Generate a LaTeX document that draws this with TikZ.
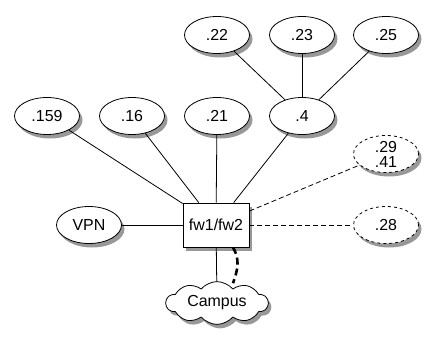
\documentclass[tikz,border=0pt]{standalone}
\usepackage{fontspec}
\setmainfont{Liberation Sans}
\usetikzlibrary{positioning, calc, shapes.geometric, shapes.symbols, shadows}

\begin{document}
\begin{tikzpicture}[
    every node/.style={font=\fontsize{16}{18}\selectfont},
    % page pixels: 435 x 345, origin bottom left
    x=1bp, y=1bp,
]

% ---------------------------------------------------------------- colours
\definecolor{inkcolor}{HTML}{000000}
\definecolor{paper}{HTML}{FFFFFF}
\definecolor{shadecolor}{HTML}{444444}

\tikzset{
    shade/.style={drop shadow={shadow xshift=3bp, shadow yshift=-4bp,
                  fill=shadecolor, opacity=0.55}},
    host/.style={ellipse, draw=inkcolor, fill=paper, line width=0.8pt,
                 minimum width=65bp, minimum height=37bp, inner sep=0pt,
                 align=center, shade},
    spare/.style={host, dashed},
    gateway/.style={rectangle, draw=inkcolor, fill=paper, line width=0.8pt,
                    minimum width=66bp, minimum height=44bp, shade},
    campus/.style={cloud, cloud puffs=10, cloud puff arc=100, aspect=2.6,
                   draw=inkcolor, fill=paper, line width=0.8pt,
                   minimum width=102bp, minimum height=40bp, inner sep=0pt,
                   shade},
    link/.style={inkcolor, line width=0.8pt},
    vlink/.style={link, dash pattern=on 5bp off 3bp},
    heavy/.style={inkcolor, line width=2.6pt, dash pattern=on 7bp off 4bp},
}

\useasboundingbox (0,0) rectangle (435,345);

% ---------------------------------------------------------------- nodes
\node[gateway] (fw) at (216,120) {fw1/fw2};
\node[host] (vpn) at (89,120) {VPN};
\node[campus] (cmp) at (217,42) {Campus};

\node[host] (h159) at (47,229) {.159};
\node[host] (h16)  at (132,229) {.16};
\node[host] (h21)  at (217,229) {.21};
\node[host] (h4)   at (302,229) {.4};

\node[host] (h22) at (217,310) {.22};
\node[host] (h23) at (302,310) {.23};
\node[host] (h25) at (386,310) {.25};

\node[spare] (h29) at (386,191) {.29\\[-3pt].41};
\node[spare] (h28) at (386,120) {.28};

% ---------------------------------------------------------------- links
\foreach \h in {h159, h16, h21, h4, vpn}
    \draw[link] (fw) -- (\h);
\foreach \h in {h22, h23, h25}
    \draw[link] (h4) -- (\h);
\draw[link] (fw) -- (cmp);

\draw[vlink] (fw) -- (h29);
\draw[vlink] (fw) -- (h28);

% ---------------------------------------------------------------- campus
\draw[heavy] ([xshift=17bp]fw.south)
    .. controls +(7,-12) and +(5,14) .. ([xshift=16bp, yshift=-2bp]cmp.north);

\end{tikzpicture}
\end{document}
